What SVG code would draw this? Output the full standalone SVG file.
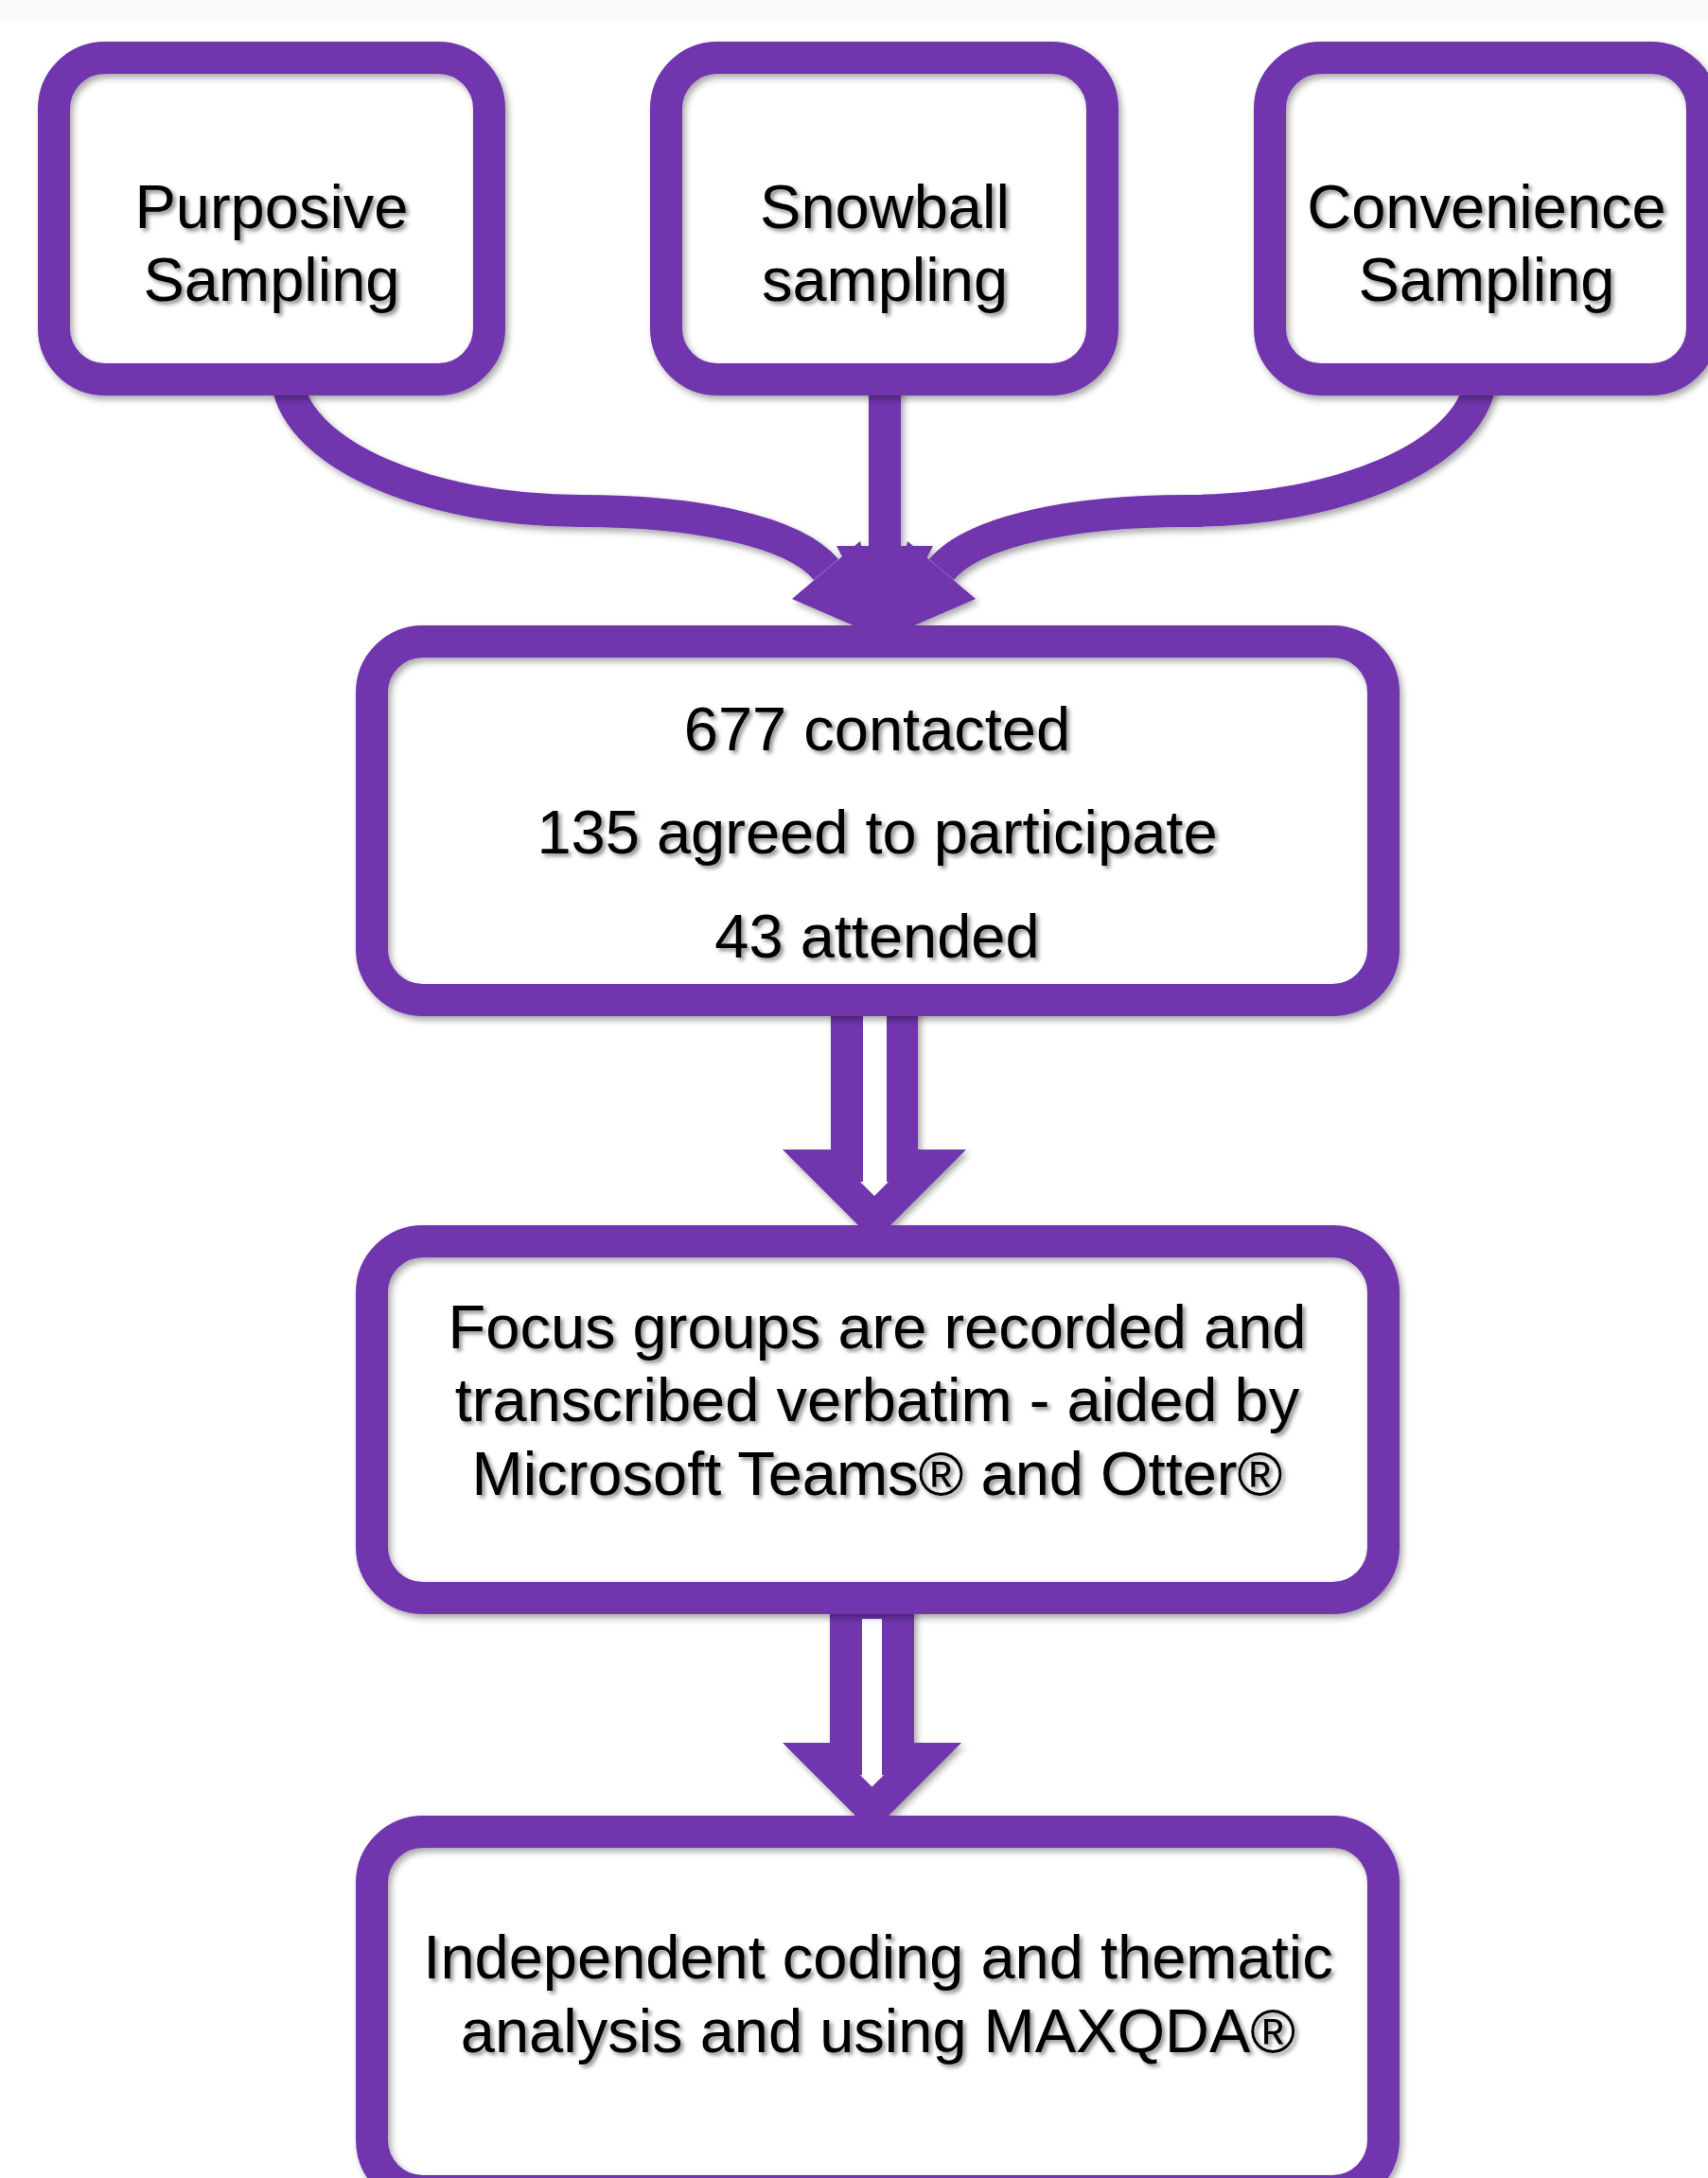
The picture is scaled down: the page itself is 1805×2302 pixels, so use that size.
<svg xmlns="http://www.w3.org/2000/svg" width="1805" height="2302" viewBox="0 0 1805 2302">
<defs>
<filter id="sh" x="-10%" y="-10%" width="130%" height="130%">
<feDropShadow dx="3" dy="4" stdDeviation="3.5" flood-color="#000" flood-opacity="0.35"/>
</filter>
<filter id="tsh" x="-5%" y="-20%" width="110%" height="150%">
<feDropShadow dx="3" dy="3" stdDeviation="2" flood-color="#000" flood-opacity="0.45"/>
</filter>
<style>
.fill{fill:#ffffff;stroke:none}
.frame{fill:none;stroke:#7134AE;stroke-width:34}
.pf{fill:#7134AE;stroke:none}
.line{fill:none;stroke:#7134AE;stroke-width:34;stroke-linecap:butt}
.wh{fill:#ffffff;stroke:none}
text{font-family:"Liberation Sans",Arial,Helvetica,sans-serif;font-size:65px;fill:#000;text-anchor:middle}
</style>
</defs>
<rect x="0" y="0" width="1805" height="2302" fill="#ffffff"/>
<rect x="0" y="0" width="1805" height="22" fill="#fafafa"/>

<g id="connectors">
  <g filter="url(#sh)">
    <path class="line" d="M 304 405 C 316 480, 450 540, 615 540 C 730 540, 838 560, 873 602"/>
    <polygon class="pf" points="837,633 909,572 934,675"/>
    <path class="line" d="M 1564 405 C 1552 480, 1418 540, 1253 540 C 1138 540, 1030 560, 995 602"/>
    <polygon class="pf" points="1031,633 959,572 934,675"/>
    <path class="line" d="M 935 405 L 935 578"/>
    <polygon class="pf" points="884,577 986,577 935,675"/>
  </g>
  <g filter="url(#sh)">
    <polygon class="pf" points="878,1060 878,1215 827,1215 924,1312 1021,1215 970,1215 970,1060"/>
  </g>
  <polygon class="wh" points="912,1074 912,1249 909,1249 924,1264 939,1249 937,1249 937,1074"/>
  <g filter="url(#sh)">
    <polygon class="pf" points="877,1695 877,1842 827,1842 921.5,1936.5 1016,1842 966,1842 966,1695"/>
  </g>
  <polygon class="wh" points="911,1711 911,1876 909,1876 921.5,1888.5 934,1876 932,1876 932,1711"/>
</g>

<g id="node-purposive">
  <rect class="fill" x="57" y="61" width="460" height="340" rx="54"/>
  <rect class="frame" x="57" y="61" width="460" height="340" rx="54" filter="url(#sh)"/>
  <g filter="url(#tsh)">
    <text x="287" y="241">Purposive</text>
    <text x="287" y="318">Sampling</text>
  </g>
</g>

<g id="node-snowball">
  <rect class="fill" x="704" y="61" width="461" height="340" rx="54"/>
  <rect class="frame" x="704" y="61" width="461" height="340" rx="54" filter="url(#sh)"/>
  <g filter="url(#tsh)">
    <text x="935" y="241">Snowball</text>
    <text x="935" y="318">sampling</text>
  </g>
</g>

<g id="node-convenience">
  <rect class="fill" x="1342" y="61" width="457" height="340" rx="54"/>
  <rect class="frame" x="1342" y="61" width="457" height="340" rx="54" filter="url(#sh)"/>
  <g filter="url(#tsh)">
    <text x="1571" y="241">Convenience</text>
    <text x="1571" y="318">Sampling</text>
  </g>
</g>

<g id="node-recruitment">
  <rect class="fill" x="393" y="678" width="1069" height="379" rx="54"/>
  <rect class="frame" x="393" y="678" width="1069" height="379" rx="54" filter="url(#sh)"/>
  <g filter="url(#tsh)">
    <text x="927" y="793">677 contacted</text>
    <text x="927" y="902">135 agreed to participate</text>
    <text x="927" y="1012">43 attended</text>
  </g>
</g>

<g id="node-focus-groups">
  <rect class="fill" x="393" y="1312" width="1069" height="377" rx="54"/>
  <rect class="frame" x="393" y="1312" width="1069" height="377" rx="54" filter="url(#sh)"/>
  <g filter="url(#tsh)">
    <text x="927" y="1425">Focus groups are recorded and</text>
    <text x="927" y="1502">transcribed verbatim - aided by</text>
    <text x="927" y="1580">Microsoft Teams® and Otter®</text>
  </g>
</g>

<g id="node-analysis">
  <rect class="fill" x="393" y="1936" width="1069" height="380" rx="54"/>
  <rect class="frame" x="393" y="1936" width="1069" height="380" rx="54" filter="url(#sh)"/>
  <g filter="url(#tsh)">
    <text x="928" y="2091">Independent coding and thematic</text>
    <text x="928" y="2169">analysis and using MAXQDA®</text>
  </g>
</g>
</svg>
